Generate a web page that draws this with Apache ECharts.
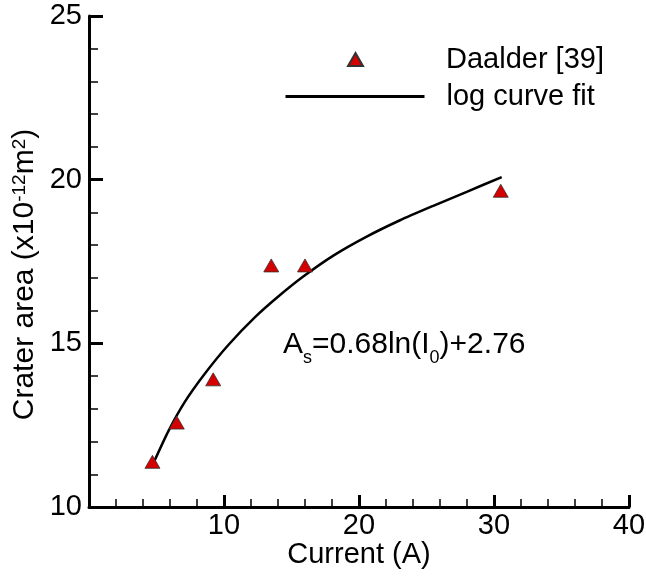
<!DOCTYPE html>
<html>
<head>
<meta charset="utf-8">
<script src="https://cdn.jsdelivr.net/npm/echarts@6/dist/echarts.min.js"></script>
<style>html,body{margin:0;padding:0;background:#fff}#c{width:646px;height:576px}</style>
</head>
<body>
<div id="c"></div>
<script>
// Measured points (Daalder [39])
const daalderCurrent = [4.7, 6.5, 9.2, 13.5, 16.0, 30.5];
const daalderArea = [11.38, 12.58, 13.90, 17.38, 17.38, 19.66];
// Log curve fit
const fitCurrent = [4.77, 5.88, 7.11, 8.59, 10.32, 12.30, 14.02, 15.87, 18.10, 20.57, 23.04, 25.50, 27.98, 30.57];
const fitArea = [11.34, 12.32, 13.22, 14.08, 14.95, 15.80, 16.43, 17.04, 17.68, 18.26, 18.76, 19.20, 19.63, 20.08];
const xTicks = [0, 10, 20, 30, 40];
const yTicks = [10, 15, 20, 25];
const seriesNames = ['Daalder [39]', 'log curve fit'];

const FONT = 'Liberation Sans, Arial, Helvetica, sans-serif';
const FS = 29;
const chart = echarts.init(document.getElementById('c'), null, {renderer: 'canvas'});
const pts = daalderCurrent.map((x, i) => [x, daalderArea[i]]);
const fit = fitCurrent.map((x, i) => [x, fitArea[i]]);

chart.setOption({
  animation: false,
  backgroundColor: '#ffffff',
  grid: {left: 89, right: 17, top: 16, bottom: 69, containLabel: false, outerBoundsMode: 'none'},
  legend: [
    {
      orient: 'vertical', left: 347, top: 45, padding: 0,
      itemWidth: 15, itemHeight: 13, symbolKeepAspect: false,
      textStyle: {fontFamily: FONT, fontSize: FS, color: '#000', padding: [0, 0, 0, 78]},
      data: [{name: seriesNames[0], icon: 'triangle'}]
    },
    {
      orient: 'vertical', left: 284, top: 82, padding: 0,
      itemWidth: 139, itemHeight: 15,
      textStyle: {fontFamily: FONT, fontSize: FS, color: '#000', padding: [0, 0, 0, 17]},
      data: [{name: seriesNames[1], itemStyle: {color: 'transparent', borderWidth: 0, opacity: 0}, lineStyle: {width: 3, color: '#000'}}]
    }
  ],
  xAxis: {
    type: 'value', min: xTicks[0], max: xTicks[xTicks.length - 1], interval: 10,
    name: 'Current (A)', nameLocation: 'middle', nameGap: 33, nameMoveOverlap: false,
    nameTextStyle: {fontFamily: FONT, fontSize: FS, color: '#000'},
    axisLine: {lineStyle: {color: '#000', width: 3}},
    axisTick: {inside: true, length: 12, lineStyle: {color: '#000', width: 3}},
    minorTick: {show: true, splitNumber: 5, length: 8, lineStyle: {color: '#000', width: 1.5}},
    axisLabel: {fontFamily: FONT, fontSize: FS, color: '#000', margin: 4, showMinLabel: false},
    splitLine: {show: false}
  },
  yAxis: {
    type: 'value', min: yTicks[0], max: yTicks[yTicks.length - 1], interval: 5,
    name: '{n|Crater area (x10}{s|-12}{n|m}{s|2}{n|)}', nameLocation: 'middle', nameGap: 49, nameMoveOverlap: false,
    nameTextStyle: {
      fontFamily: FONT, fontSize: 30, color: '#000', padding: [0, 26, 0, 0],
      rich: {
        n: {fontFamily: FONT, fontSize: 30, color: '#000', lineHeight: 30},
        s: {fontFamily: FONT, fontSize: 19, color: '#000', lineHeight: 19, verticalAlign: 'top'}
      }
    },
    axisLine: {lineStyle: {color: '#000', width: 3}},
    axisTick: {inside: true, length: 14, lineStyle: {color: '#000', width: 3}},
    minorTick: {show: true, splitNumber: 5, length: 9, lineStyle: {color: '#000', width: 1.5}},
    axisLabel: {fontFamily: FONT, fontSize: FS, color: '#000', margin: 7},
    splitLine: {show: false}
  },
  series: [
    {
      name: seriesNames[0], type: 'scatter', data: pts,
      symbol: 'triangle', symbolSize: [15, 13], z: 3,
      itemStyle: {color: '#d40000', borderColor: '#333', borderWidth: 0.8, opacity: 1}
    },
    {
      name: seriesNames[1], type: 'line', data: fit, smooth: 0.2,
      symbol: 'none', showSymbol: false, z: 2,
      lineStyle: {color: '#000', width: 2.5},
      itemStyle: {color: '#000'}
    }
  ],
  graphic: [
    {
      type: 'text', left: 283, top: 330, z: 10,
      style: {
        text: '{n|A}{b|s}{n|=0.68ln(I}{b|0}{n|)+2.76}',
        fontFamily: FONT, fontSize: 30, fill: '#000',
        rich: {
          n: {fontFamily: FONT, fontSize: 30, fill: '#000', lineHeight: 44},
          b: {fontFamily: FONT, fontSize: 18, fill: '#000', lineHeight: 17, verticalAlign: 'bottom'}
        }
      }
    }
  ]
});
</script>
</body>
</html>
